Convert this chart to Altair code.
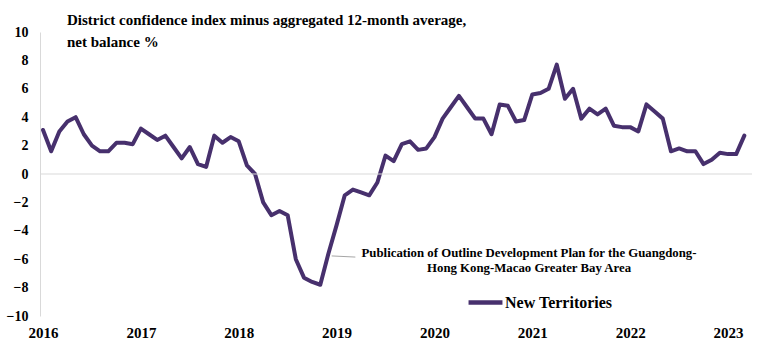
import altair as alt
import pandas as pd

# ---- data -------------------------------------------------------------
years = [2016, 2017, 2018, 2019, 2020, 2021, 2022, 2023]
series_name = "New Territories"
values = [
    3.1, 1.6, 3.0, 3.7, 4.0, 2.8, 2.0, 1.6, 1.6, 2.2, 2.2, 2.1,      # 2016
    3.2, 2.8, 2.4, 2.7, 1.9, 1.1, 1.9, 0.7, 0.5, 2.7, 2.2, 2.6,      # 2017
    2.3, 0.6, 0.0, -2.0, -2.9, -2.6, -2.9, -6.0, -7.3, -7.6, -7.8, -5.6,  # 2018
    -3.6, -1.5, -1.1, -1.3, -1.5, -0.6, 1.3, 0.9, 2.1, 2.3, 1.7, 1.8,  # 2019
    2.6, 3.9, 4.7, 5.5, 4.7, 3.9, 3.9, 2.8, 4.9, 4.8, 3.7, 3.8,      # 2020
    5.6, 5.7, 6.0, 7.7, 5.3, 6.0, 3.9, 4.6, 4.2, 4.6, 3.4, 3.3,      # 2021
    3.3, 3.0, 4.9, 4.4, 3.9, 1.6, 1.8, 1.6, 1.6, 0.7, 1.0, 1.5,      # 2022
    1.4, 1.4, 2.7,                                                   # 2023
]
y_ticks = [-10, -8, -6, -4, -2, 0, 2, 4, 6, 8, 10]
title_lines = ["District confidence index minus aggregated 12-month average,",
               "net balance %"]
annotation_text = ["Publication of Outline Development Plan for the Guangdong-",
                   "Hong Kong-Macao Greater Bay Area"]
# annotation anchor in data units (month index, value)
annotation_pos = (59.6, -5.56)
leader_from = (35.4, -5.77)
leader_to = (38.3, -5.85)

# ---- tables -----------------------------------------------------------
df = pd.DataFrame({
    "month": list(range(len(values))),
    "value": values,
    "series": [series_name] * len(values),
})
x_tick_values = [12 * (y - years[0]) for y in years]

FONT = "Liberation Serif"
LINE_COLOR = "#47306d"
GRID = "#d9d9d9"

x_scale = alt.Scale(domain=[-0.37, 86.94], nice=False, zero=False)
y_scale = alt.Scale(domain=[-10, 10], nice=False)

y_axis = alt.Axis(
    values=y_ticks,
    domain=True,
    domainColor=GRID,
    domainWidth=1,
    ticks=False,
    grid=False,
    labelOverlap=False,
    labelFont=FONT,
    labelFontWeight="bold",
    labelFontSize=14,
    labelColor="#000000",
    labelPadding=12,
)
x_axis = alt.Axis(
    values=x_tick_values,
    labelExpr=f"{years[0]} + datum.value / 12",
    domain=False,
    ticks=False,
    grid=False,
    labelOverlap=False,
    labelFont=FONT,
    labelFontWeight="bold",
    labelFontSize=15,
    labelColor="#000000",
    labelPadding=9,
)

line = alt.Chart(df).mark_line(strokeWidth=4, strokeJoin="round", strokeCap="round").encode(
    x=alt.X("month:Q", scale=x_scale, title=None, axis=x_axis),
    y=alt.Y("value:Q", scale=y_scale, title=None, axis=y_axis),
    color=alt.Color(
        "series:N",
        scale=alt.Scale(domain=[series_name], range=[LINE_COLOR]),
        legend=alt.Legend(
            title=None,
            orient="none",
            legendX=426,
            legendY=251,
            symbolType="stroke",
            symbolStrokeWidth=4.5,
            symbolSize=1150,
            labelFont=FONT,
            labelFontWeight="bold",
            labelFontSize=16,
            labelColor="#000000",
            labelOffset=0,
        ),
    ),
)

zero_rule = alt.Chart(pd.DataFrame({"value": [0]})).mark_rule(
    color=GRID, strokeWidth=1
).encode(y=alt.Y("value:Q", scale=y_scale, title=None, axis=y_axis))

ann_df = pd.DataFrame({
    "month": [annotation_pos[0]],
    "value": [annotation_pos[1]],
    "text": ["\n".join(annotation_text)],
})
annotation = alt.Chart(ann_df).mark_text(
    font=FONT, fontWeight="bold", fontSize=12.8, align="center",
    baseline="middle", lineBreak="\n", lineHeight=15, color="#000000",
).encode(
    x=alt.X("month:Q", scale=x_scale, title=None, axis=x_axis),
    y=alt.Y("value:Q", scale=y_scale, title=None, axis=y_axis),
    text="text:N",
)

leader_df = pd.DataFrame({
    "month": [leader_from[0]], "month2": [leader_to[0]],
    "value": [leader_from[1]], "value2": [leader_to[1]],
})
leader = alt.Chart(leader_df).mark_rule(color="#a6a6a6", strokeWidth=1).encode(
    x=alt.X("month:Q", scale=x_scale, title=None, axis=x_axis), x2="month2:Q",
    y=alt.Y("value:Q", scale=y_scale, title=None, axis=y_axis), y2="value2:Q",
)

chart = alt.layer(line, zero_rule, leader, annotation).properties(
    width=712,
    height=284,
    background="#ffffff",
    autosize=alt.AutoSizeParams(type="none"),
    padding={"left": 40, "top": 32, "right": 10, "bottom": 40},
    title=alt.TitleParams(
        text=title_lines,
        anchor="start",
        frame="group",
        dx=27,
        offset=-25,
        font=FONT,
        fontWeight="bold",
        fontSize=15,
        lineHeight=22,
        color="#000000",
    ),
).configure_view(stroke=None).configure_axis(labelOverlap=False)

chart.save("out.html", embed_options={"renderer": "svg", "actions": False})
